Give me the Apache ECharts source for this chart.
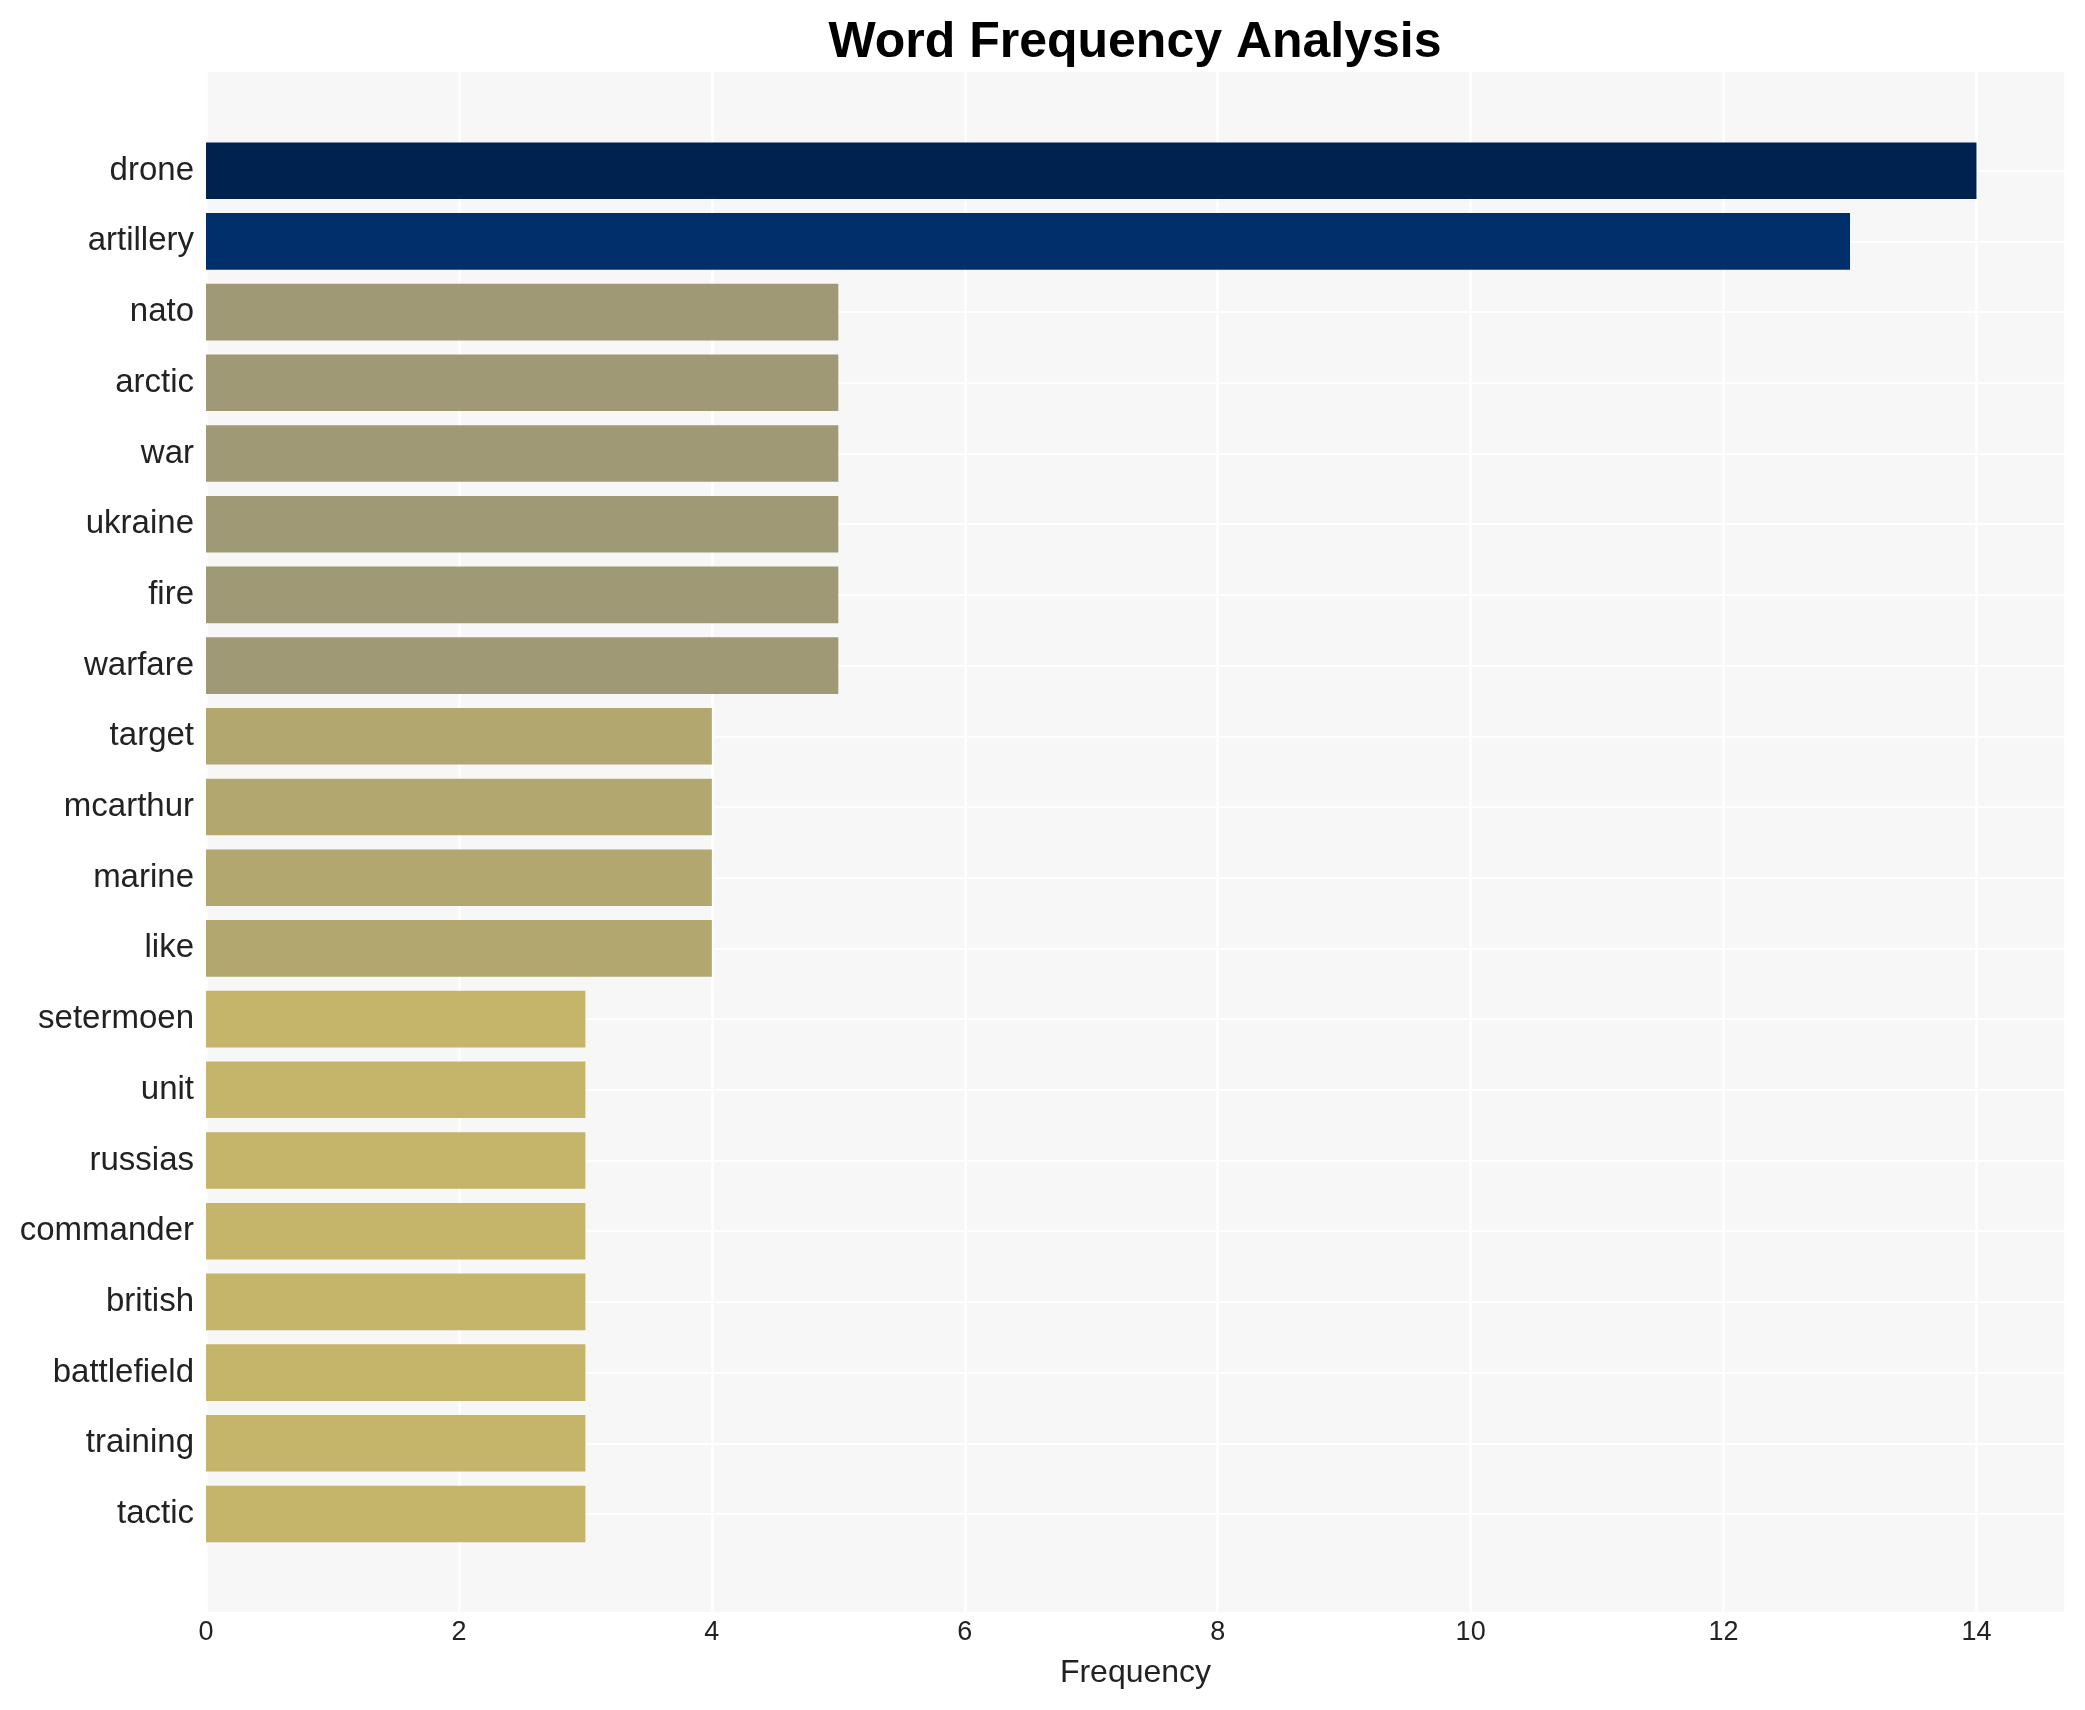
<!DOCTYPE html>
<html>
<head>
<meta charset="utf-8">
<script src="https://cdn.jsdelivr.net/npm/echarts@6/dist/echarts.min.js"></script>
<style>
html,body{margin:0;padding:0;background:#fff;}
#chart{width:2085px;height:1710px;}
</style>
</head>
<body>
<div id="chart"></div>
<script>
const words = ["drone","artillery","nato","arctic","war","ukraine","fire","warfare","target","mcarthur","marine","like","setermoen","unit","russias","commander","british","battlefield","training","tactic"];
const counts = [14,13,5,5,5,5,5,5,4,4,4,4,3,3,3,3,3,3,3,3];
const xTicks = [0,2,4,6,8,10,12,14];
const colorByCount = {14:"#00224e",13:"#002f6c",5:"#a09975",4:"#b2a76f",3:"#c4b56a"};

const FONT = "Liberation Sans, Arial, Helvetica, sans-serif";
const xMax = 14.7;

const chart = echarts.init(document.getElementById('chart'));
chart.setOption({
  backgroundColor: '#ffffff',
  animation: false,
  title: {
    text: 'Word Frequency Analysis',
    left: 1130, top: 13, textAlign: 'center',
    textStyle: {fontFamily: FONT, fontSize: 50, fontWeight: 'bold', color: '#000'}
  },
  grid: [
    {left: 206, right: 20, top: 72, bottom: 98, show: true, backgroundColor: '#f7f7f7', borderWidth: 0, containLabel: false},
    {left: 206, right: 20, top: 170.7, bottom: 196, show: false, containLabel: false}
  ],
  xAxis: [
    {
      type: 'value', gridIndex: 0, min: 0, max: xMax, interval: 2,
      axisLine: {show: false}, axisTick: {show: false},
      axisLabel: {
        fontFamily: FONT, fontSize: 27, color: '#222222', margin: 7,
        customValues: xTicks,
        formatter: v => String(v)
      },
      splitLine: {show: true, lineStyle: {color: '#ffffff', width: 2.5}},
      name: 'Frequency', nameLocation: 'middle', nameGap: 45,
      nameTextStyle: {fontFamily: FONT, fontSize: 32, color: '#222222'}
    },
    {
      type: 'value', gridIndex: 1, min: 0, max: xMax,
      show: false, splitLine: {show: false}
    }
  ],
  yAxis: [
    {type: 'value', gridIndex: 0, show: false, splitLine: {show: false}},
    {
      type: 'category', gridIndex: 1, data: words, inverse: true, boundaryGap: false,
      axisLine: {show: false}, axisTick: {show: false},
      axisLabel: {fontFamily: FONT, fontSize: 33, color: '#222222', margin: 12, interval: 0, padding: [6, 0, 0, 0]},
      splitLine: {show: true, interval: 0, lineStyle: {color: '#ffffff', width: 2}}
    }
  ],
  series: [{
    type: 'bar',
    xAxisIndex: 1, yAxisIndex: 1,
    barWidth: '80%',
    clip: false,
    data: counts.map(v => ({value: v, itemStyle: {color: colorByCount[v]}}))
  }]
});
</script>
</body>
</html>
